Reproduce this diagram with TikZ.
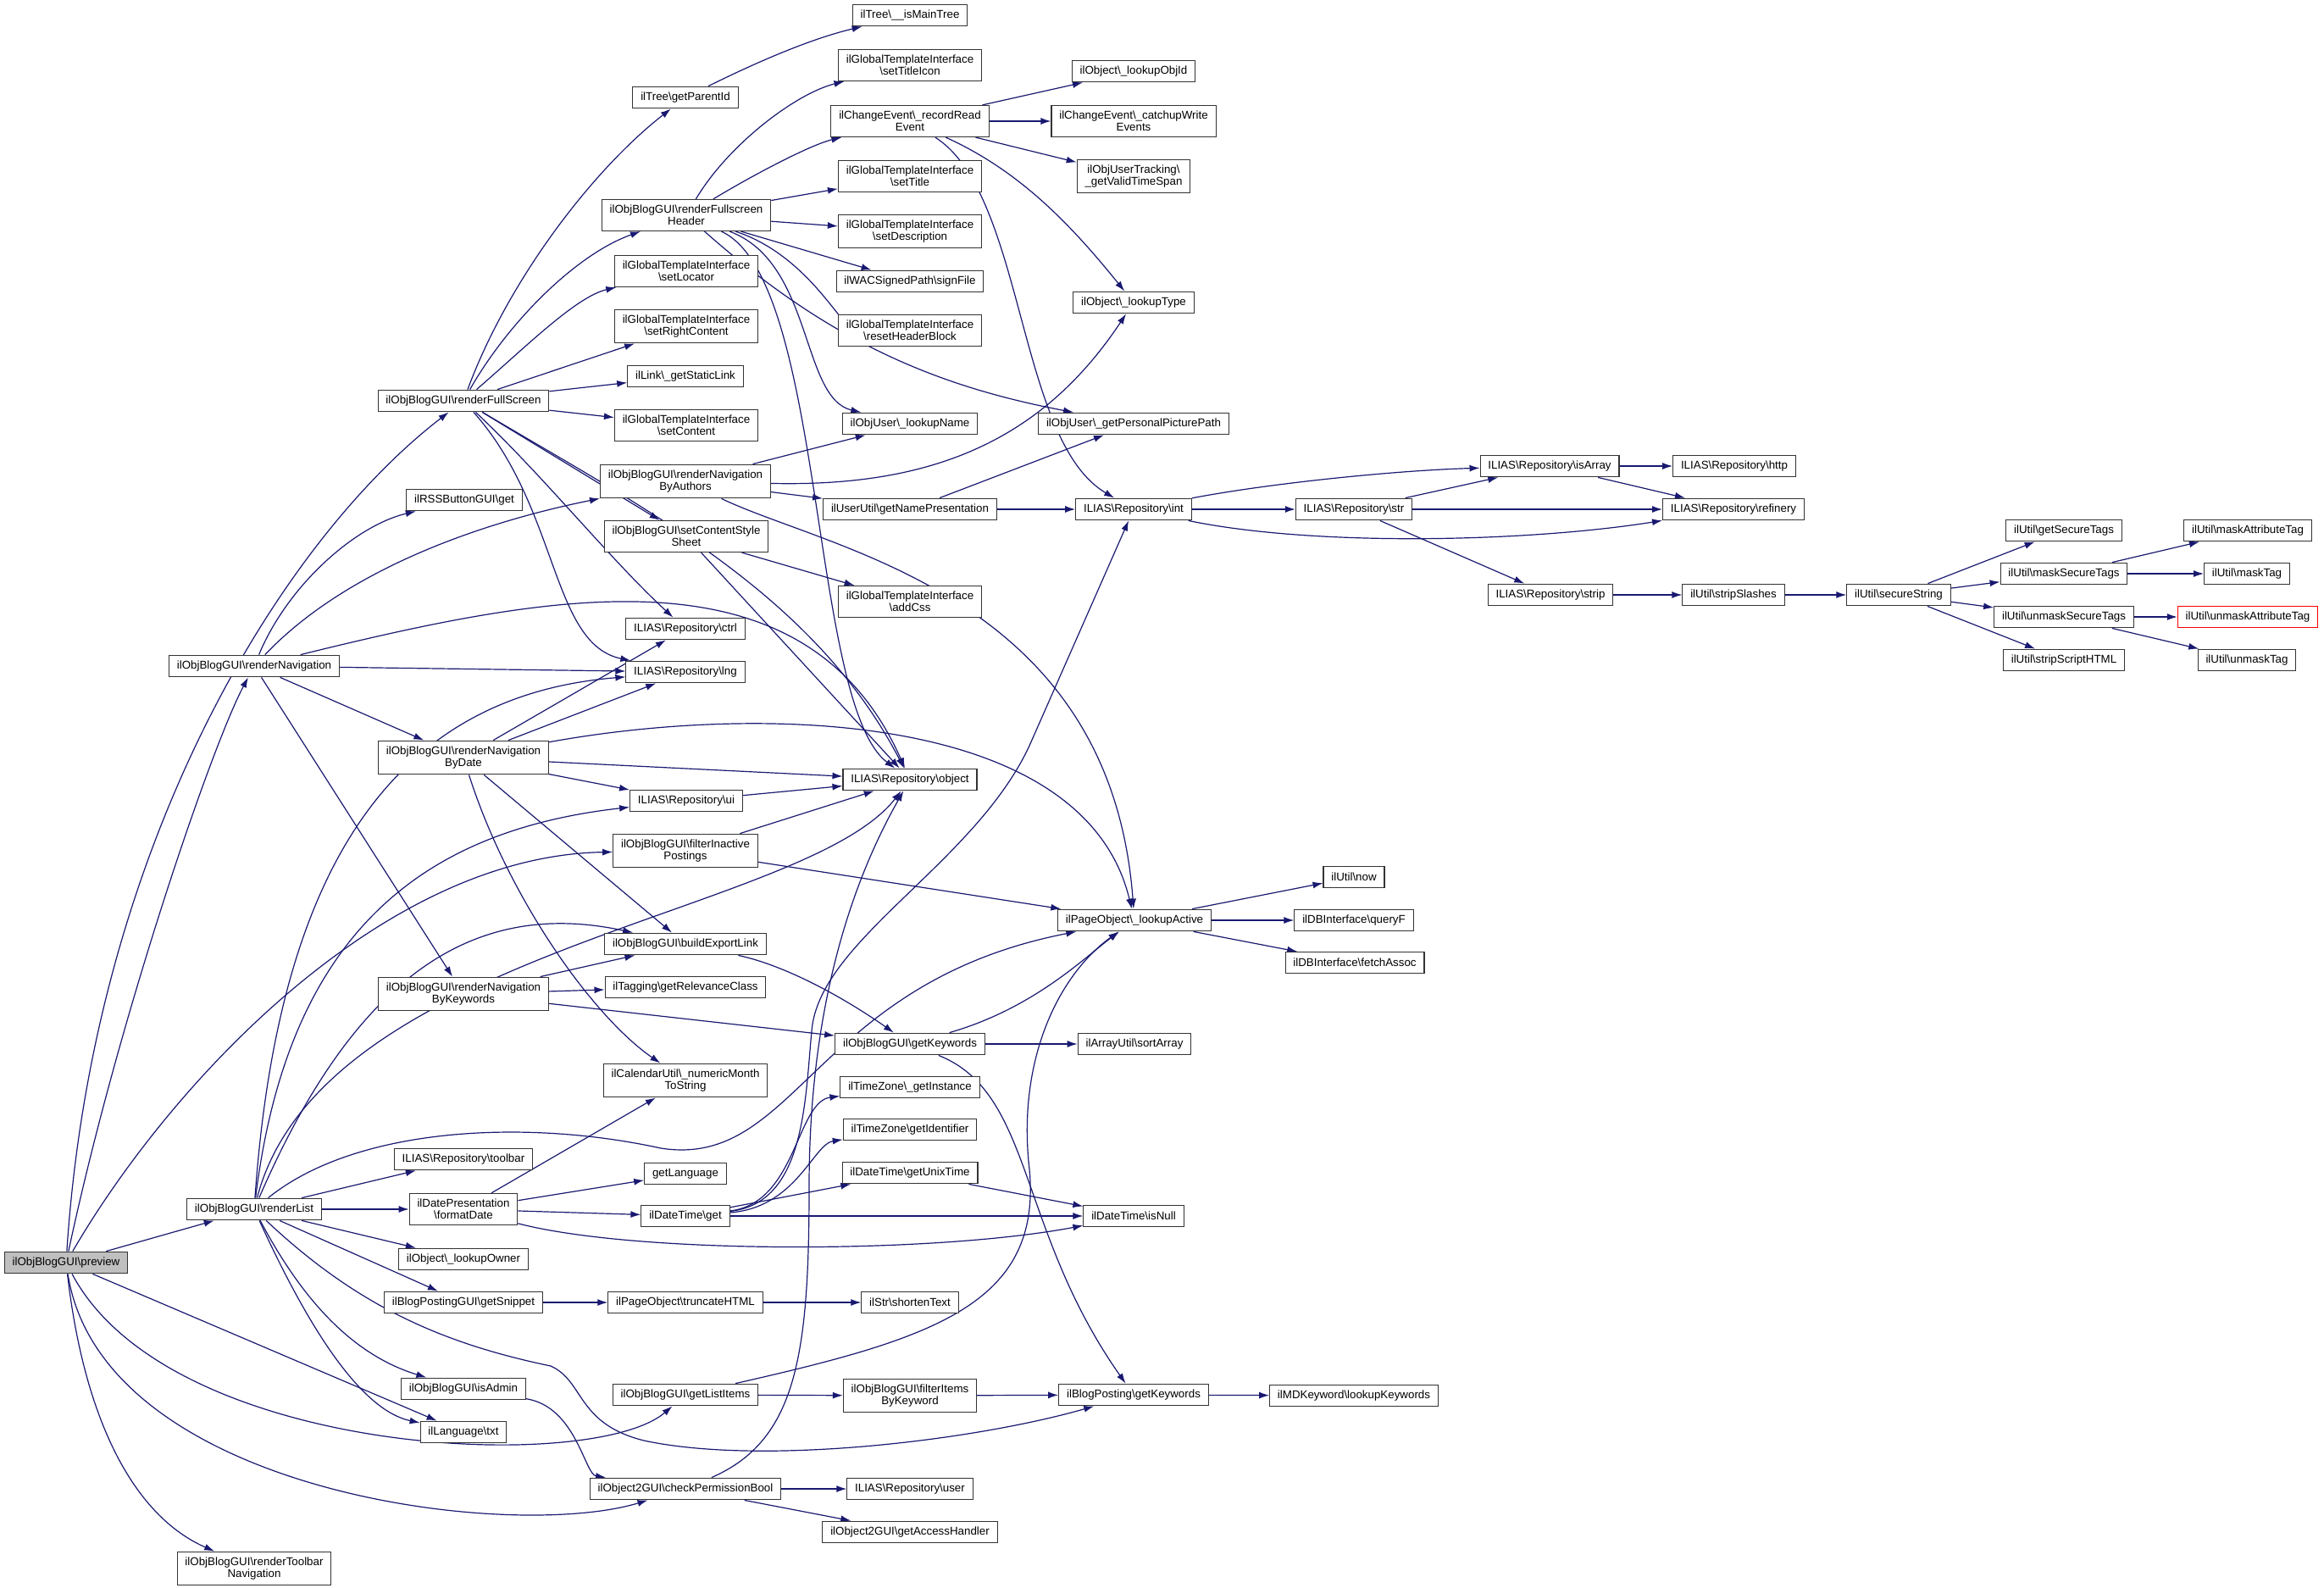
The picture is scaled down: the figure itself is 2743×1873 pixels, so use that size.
\documentclass[tikz,border=0pt]{standalone}
\usepackage{fontspec}
\setmainfont{Liberation Sans}
\usetikzlibrary{arrows.meta,backgrounds}
\definecolor{edgeblue}{HTML}{191970}
\definecolor{callergray}{HTML}{BFBFBF}
\newcommand{\bs}{\textbackslash}
\tikzset{
  fn/.style={draw=black!80, line width=0.8pt, fill=white, inner xsep=7pt, inner ysep=5pt,
    minimum height=18.75pt, align=center, font=\fontsize{10}{10.5}\selectfont},
}

\begin{document}
\begin{tikzpicture}[x=0.75pt, y=-0.75pt, >={Latex[length=9pt,width=6pt]},
  call/.style={->, draw=edgeblue, line width=0.9pt}]
  \useasboundingbox (0,0) rectangle (2743,1873);

  % column 1 and 2
  \node[fn,fill=callergray] (prev) at (78,1490) {ilObjBlogGUI\bs preview};
  \node[fn] (fullscr) at (547,473) {ilObjBlogGUI\bs renderFullScreen};
  \node[fn] (rss) at (548,590) {ilRSSButtonGUI\bs get};
  \node[fn] (nav) at (300,786) {ilObjBlogGUI\bs renderNavigation};
  \node[fn] (navdate) at (547,894) {ilObjBlogGUI\bs renderNavigation\\ByDate};
  \node[fn] (navkey) at (547,1173) {ilObjBlogGUI\bs renderNavigation\\ByKeywords};
  \node[fn] (list) at (300,1427) {ilObjBlogGUI\bs renderList};
  \node[fn] (toolnav) at (300,1851) {ilObjBlogGUI\bs renderToolbar\\Navigation};
  \node[fn] (toolbar) at (547,1368) {ILIAS\bs Repository\bs toolbar};
  \node[fn] (fmtdate) at (547,1427) {ilDatePresentation\\\bs formatDate};
  \node[fn] (owner) at (547,1486) {ilObject\bs\_lookupOwner};
  \node[fn] (snippet) at (547,1537) {ilBlogPostingGUI\bs getSnippet};
  \node[fn] (isadmin) at (547,1639) {ilObjBlogGUI\bs isAdmin};
  \node[fn] (txt) at (547,1690) {ilLanguage\bs txt};

  % column 3
  \node[fn] (parent) at (809,115) {ilTree\bs getParentId};
  \node[fn] (header) at (810,254) {ilObjBlogGUI\bs renderFullscreen\\Header};
  \node[fn] (locator) at (810,320) {ilGlobalTemplateInterface\\\bs setLocator};
  \node[fn] (rightc) at (810,385) {ilGlobalTemplateInterface\\\bs setRightContent};
  \node[fn] (statlink) at (809,444) {ilLink\bs\_getStaticLink};
  \node[fn] (content) at (810,502) {ilGlobalTemplateInterface\\\bs setContent};
  \node[fn] (navauth) at (809,568) {ilObjBlogGUI\bs renderNavigation\\ByAuthors};
  \node[fn] (stylesh) at (810,633) {ilObjBlogGUI\bs setContentStyle\\Sheet};
  \node[fn] (ctrl) at (809,742) {ILIAS\bs Repository\bs ctrl};
  \node[fn] (lng) at (809,793) {ILIAS\bs Repository\bs lng};
  \node[fn] (ui) at (810,945) {ILIAS\bs Repository\bs ui};
  \node[fn] (filtinact) at (809,1004) {ilObjBlogGUI\bs filterInactive\\Postings};
  \node[fn] (export) at (809,1114) {ilObjBlogGUI\bs buildExportLink};
  \node[fn] (relev) at (809,1165) {ilTagging\bs getRelevanceClass};
  \node[fn] (month) at (809,1275) {ilCalendarUtil\bs\_numericMonth\\ToString};
  \node[fn] (getlang) at (809,1385) {getLanguage};
  \node[fn] (dtget) at (809,1435) {ilDateTime\bs get};
  \node[fn] (trunc) at (809,1537) {ilPageObject\bs truncateHTML};
  \node[fn] (listitems) at (809,1646) {ilObjBlogGUI\bs getListItems};
  \node[fn] (checkperm) at (809,1757) {ilObject2GUI\bs checkPermissionBool};

  % column 4
  \node[fn] (maintree) at (1074,18) {ilTree\bs\_\_isMainTree};
  \node[fn] (titleicon) at (1074,77) {ilGlobalTemplateInterface\\\bs setTitleIcon};
  \node[fn] (readev) at (1074,143) {ilChangeEvent\bs\_recordRead\\Event};
  \node[fn] (title) at (1074,208) {ilGlobalTemplateInterface\\\bs setTitle};
  \node[fn] (descr) at (1074,273) {ilGlobalTemplateInterface\\\bs setDescription};
  \node[fn] (signfile) at (1074,332) {ilWACSignedPath\bs signFile};
  \node[fn] (resethdr) at (1074,390) {ilGlobalTemplateInterface\\\bs resetHeaderBlock};
  \node[fn] (lookname) at (1074,500) {ilObjUser\bs\_lookupName};
  \node[fn] (namepres) at (1074,601) {ilUserUtil\bs getNamePresentation};
  \node[fn] (addcss) at (1074,710) {ilGlobalTemplateInterface\\\bs addCss};
  \node[fn] (object) at (1074,920) {ILIAS\bs Repository\bs object};
  \node[fn] (blogkeys) at (1074,1232) {ilObjBlogGUI\bs getKeywords};
  \node[fn] (tzinst) at (1074,1283) {ilTimeZone\bs\_getInstance};
  \node[fn] (tzid) at (1074,1333) {ilTimeZone\bs getIdentifier};
  \node[fn] (unixtime) at (1074,1384) {ilDateTime\bs getUnixTime};
  \node[fn] (shorten) at (1074,1537) {ilStr\bs shortenText};
  \node[fn] (filtkey) at (1074,1647) {ilObjBlogGUI\bs filterItems\\ByKeyword};
  \node[fn] (user) at (1074,1757) {ILIAS\bs Repository\bs user};
  \node[fn] (access) at (1074,1808) {ilObject2GUI\bs getAccessHandler};

  % column 5
  \node[fn] (objid) at (1338,84) {ilObject\bs\_lookupObjId};
  \node[fn] (catchup) at (1338,143) {ilChangeEvent\bs\_catchupWrite\\Events};
  \node[fn] (timespan) at (1338,208) {ilObjUserTracking\bs\\\_getValidTimeSpan};
  \node[fn] (looktype) at (1338,357) {ilObject\bs\_lookupType};
  \node[fn] (picpath) at (1338,500) {ilObjUser\bs\_getPersonalPicturePath};
  \node[fn] (int) at (1338,601) {ILIAS\bs Repository\bs int};
  \node[fn] (active) at (1339,1086) {ilPageObject\bs\_lookupActive};
  \node[fn] (sortarr) at (1339,1232) {ilArrayUtil\bs sortArray};
  \node[fn] (isnull) at (1338,1435) {ilDateTime\bs isNull};
  \node[fn] (postkeys) at (1338,1646) {ilBlogPosting\bs getKeywords};

  % columns 6 to 10
  \node[fn] (str) at (1598,601) {ILIAS\bs Repository\bs str};
  \node[fn] (isarray) at (1829,550) {ILIAS\bs Repository\bs isArray};
  \node[fn] (strip) at (1830,702) {ILIAS\bs Repository\bs strip};
  \node[fn] (now) at (1598,1035) {ilUtil\bs now};
  \node[fn] (queryf) at (1598,1086) {ilDBInterface\bs queryF};
  \node[fn] (fetch) at (1599,1136) {ilDBInterface\bs fetchAssoc};
  \node[fn] (mdkeys) at (1598,1647) {ilMDKeyword\bs lookupKeywords};
  \node[fn] (http) at (2047,550) {ILIAS\bs Repository\bs http};
  \node[fn] (refinery) at (2046,601) {ILIAS\bs Repository\bs refinery};
  \node[fn] (slashes) at (2046,702) {ilUtil\bs stripSlashes};
  \node[fn] (secure) at (2241,702) {ilUtil\bs secureString};
  \node[fn] (sectags) at (2436,626) {ilUtil\bs getSecureTags};
  \node[fn] (masksec) at (2436,677) {ilUtil\bs maskSecureTags};
  \node[fn] (unmasksec) at (2436,728) {ilUtil\bs unmaskSecureTags};
  \node[fn] (stripscr) at (2436,779) {ilUtil\bs stripScriptHTML};
  \node[fn] (maskattr) at (2653,626) {ilUtil\bs maskAttributeTag};
  \node[fn] (masktag) at (2652,677) {ilUtil\bs maskTag};
  \node[fn,draw=red] (unmaskattr) at (2653,728) {ilUtil\bs unmaskAttributeTag};
  \node[fn] (unmasktag) at (2652,779) {ilUtil\bs unmaskTag};

  \begin{scope}[on background layer]
  % preview
  \draw[call] (prev) -- (list);
  \draw[call] (prev) -- (txt);
  \draw[call] (prev) .. controls (110,1000) and (330,640) .. (fullscr);
  \draw[call] (prev) .. controls (140,1200) and (250,880) .. (nav);
  \draw[call] (prev) .. controls (200,1280) and (450,1010) .. (filtinact);
  \draw[call] (prev) .. controls (200,1720) and (700,1740) .. (listitems);
  \draw[call] (prev) .. controls (120,1760) and (600,1820) .. (checkperm);
  \draw[call] (prev) .. controls (100,1680) and (160,1790) .. (toolnav);

  % renderFullScreen
  \draw[call] (fullscr) .. controls (600,330) and (700,200) .. (parent);
  \draw[call] (fullscr) .. controls (600,380) and (680,300) .. (header);
  \draw[call] (fullscr) .. controls (620,410) and (680,350) .. (locator);
  \foreach \to in {rightc,statlink,content,stylesh}
    \draw[call] (fullscr) -- (\to);
  \draw[call] (fullscr) .. controls (640,560) and (720,660) .. (ctrl);
  \draw[call] (fullscr) .. controls (660,600) and (650,760) .. (lng);
  \draw[call] (fullscr) .. controls (760,600) and (960,700) .. (object);

  % renderNavigation
  \draw[call] (nav) .. controls (340,690) and (420,620) .. (rss);
  \draw[call] (nav) .. controls (420,660) and (600,610) .. (navauth);
  \draw[call] (nav) .. controls (650,700) and (950,640) .. (object);
  \foreach \to in {lng,navdate,navkey}
    \draw[call] (nav) -- (\to);

  % renderNavigation by date / keywords
  \foreach \to in {ctrl,lng,object,ui,export}
    \draw[call] (navdate) -- (\to);
  \draw[call] (navdate) .. controls (900,830) and (1280,840) .. (active);
  \draw[call] (navdate) .. controls (600,1060) and (700,1200) .. (month);
  \foreach \to in {export,relev,blogkeys}
    \draw[call] (navkey) -- (\to);

  % renderList
  \foreach \to in {toolbar,fmtdate,owner,snippet}
    \draw[call] (list) -- (\to);
  \draw[call] (list) .. controls (360,1540) and (420,1600) .. (isadmin);
  \draw[call] (list) .. controls (370,1580) and (430,1665) .. (txt);
  \draw[call] (list) .. controls (330,1000) and (480,820) .. (lng);
  \draw[call] (list) .. controls (340,1100) and (500,980) .. (ui);
  \draw[call] (list) .. controls (380,1120) and (950,1080) .. (object);
  \draw[call] (list) .. controls (420,1150) and (560,1060) .. (export);
  \draw[call] (list) .. controls (420,1330) and (620,1320) .. (780,1355)
    .. controls (940,1380) and (960,1160) .. (active);
  \draw[call] (list) .. controls (420,1540) and (520,1585) .. (650,1612)
    .. controls (690,1630) and (680,1680) .. (760,1700)
    .. controls (900,1730) and (1150,1700) .. (postkeys);

  % dates
  \foreach \to in {month,getlang,dtget}
    \draw[call] (fmtdate) -- (\to);
  \draw[call] (fmtdate) .. controls (750,1480) and (1100,1480) .. (isnull);
  \foreach \to in {unixtime,isnull}
    \draw[call] (dtget) -- (\to);
  \draw[call] (dtget) .. controls (940,1420) and (940,1300) .. (tzinst);
  \draw[call] (dtget) .. controls (940,1425) and (960,1350) .. (tzid);
  \draw[call] (dtget) .. controls (950,1420) and (950,1300) .. (958,1217)
    .. controls (966,1110) and (1150,1020) .. (1215,880) -- (int);
  \draw[call] (unixtime) -- (isnull);

  % lower part
  \draw[call] (snippet) -- (trunc);
  \draw[call] (trunc) -- (shorten);
  \draw[call] (isadmin) .. controls (680,1660) and (690,1740) .. (checkperm);
  \draw[call] (listitems) -- (filtkey);
  \draw[call] (listitems) .. controls (1100,1580) and (1230,1540) .. (1215,1380)
    .. controls (1200,1250) and (1250,1150) .. (active);
  \draw[call] (filtkey) -- (postkeys);
  \draw[call] (postkeys) -- (mdkeys);
  \foreach \to in {user,access}
    \draw[call] (checkperm) -- (\to);
  \draw[call] (checkperm) .. controls (940,1700) and (955,1600) .. (955,1400)
    .. controls (955,1200) and (1000,1050) .. (object);
  \draw[call] (export) .. controls (930,1140) and (1000,1180) .. (blogkeys);
  \draw[call] (blogkeys) -- (sortarr);
  \draw[call] (blogkeys) .. controls (1220,1190) and (1280,1130) .. (active);
  \draw[call] (blogkeys) .. controls (1220,1290) and (1200,1450) .. (postkeys);
  \foreach \to in {object,active}
    \draw[call] (filtinact) -- (\to);
  \draw[call] (ui) -- (object);
  \foreach \to in {addcss,object}
    \draw[call] (stylesh) -- (\to);
  \foreach \to in {now,queryf,fetch}
    \draw[call] (active) -- (\to);

  % fullscreen header
  \draw[call] (header) .. controls (860,170) and (940,110) .. (titleicon);
  \draw[call] (header) .. controls (900,200) and (960,170) .. (readev);
  \foreach \to in {title,descr,signfile}
    \draw[call] (header) -- (\to);
  \draw[call] (header) .. controls (950,300) and (990,380) .. (resethdr);
  \draw[call] (header) .. controls (960,310) and (945,470) .. (lookname);
  \draw[call] (header) .. controls (975,330) and (955,830) .. (object);
  \draw[call] (header) .. controls (975,400) and (1100,455) .. (picpath);
  \draw[call] (parent) .. controls (900,70) and (960,45) .. (maintree);

  % change event, authors
  \foreach \to in {objid,catchup,timespan}
    \draw[call] (readev) -- (\to);
  \draw[call] (readev) .. controls (1200,200) and (1260,260) .. (looktype);
  \draw[call] (readev) .. controls (1210,230) and (1200,520) .. (int);
  \foreach \to in {lookname,namepres}
    \draw[call] (navauth) -- (\to);
  \draw[call] (navauth) .. controls (1100,575) and (1230,520) .. (looktype);
  \draw[call] (navauth) .. controls (980,650) and (1310,700) .. (active);
  \foreach \to in {picpath,int}
    \draw[call] (namepres) -- (\to);

  % repository and util
  \draw[call] (int) .. controls (1500,570) and (1650,555) .. (isarray);
  \draw[call] (int) -- (str);
  \draw[call] (int) .. controls (1550,645) and (1800,640) .. (refinery);
  \foreach \to in {isarray,refinery,strip}
    \draw[call] (str) -- (\to);
  \foreach \to in {http,refinery}
    \draw[call] (isarray) -- (\to);
  \draw[call] (strip) -- (slashes);
  \draw[call] (slashes) -- (secure);
  \foreach \to in {sectags,masksec,unmasksec,stripscr}
    \draw[call] (secure) -- (\to);
  \foreach \to in {maskattr,masktag}
    \draw[call] (masksec) -- (\to);
  \foreach \to in {unmaskattr,unmasktag}
    \draw[call] (unmasksec) -- (\to);
  \end{scope}

\end{tikzpicture}
\end{document}
